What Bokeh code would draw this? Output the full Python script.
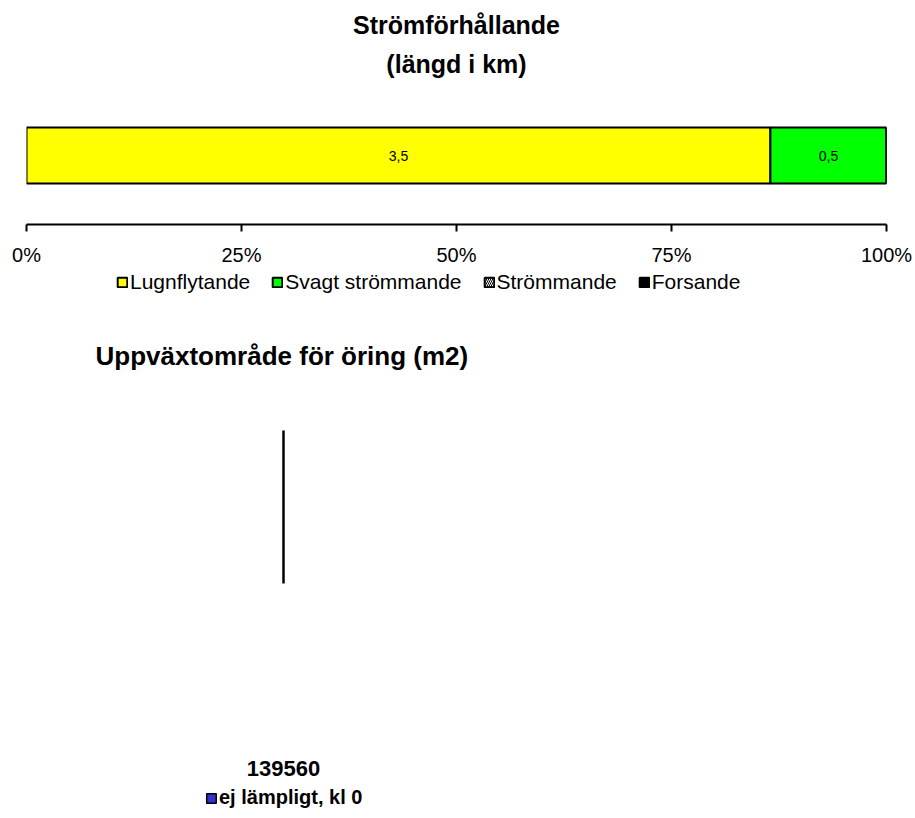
import math
from bokeh.plotting import figure
from bokeh.models import (Range1d, FactorRange, FixedTicker, PrintfTickFormatter,
                          Legend, LegendItem, Title, ColumnDataSource)
from bokeh.layouts import column
from bokeh.embed import file_html
from bokeh.resources import INLINE
from bokeh.core.properties import value

# ---------------- data ----------------
flow_title = "Strömförhållande"
flow_subtitle = "(längd i km)"
flow_categories = ["Lugnflytande", "Svagt strömmande", "Strömmande", "Forsande"]
flow_km = [3.46, 0.54, 0.0, 0.0]
flow_colors = ["#FFFF00", "#00FF00", "#FFFFFF", "#000000"]
flow_hatch = [" ", " ", "\\", " "]
pct_ticks = [0, 25, 50, 75, 100]

trout_title = "Uppväxtområde för öring  (m2)"
trout_categories = ["ej lämpligt, kl 0"]
trout_m2 = [139560]
trout_colors = ["#3333CC"]

FONT = "Liberation Sans"
W = 915
FRAME = dict(min_border_left=26, min_border_right=29)

# ---------------- figure 1: stacked 100% bar ----------------
row = [flow_title]
total = sum(flow_km)
pct = [v / total * 100 for v in flow_km]
lefts, rights = [], []
acc = 0.0
for v in pct:
    lefts.append(acc)
    acc += v
    rights.append(acc)

p1 = figure(width=W, height=268, x_range=Range1d(0, 100),
            y_range=FactorRange(factors=row, range_padding=0),
            output_backend="svg", toolbar_location=None,
            min_border_top=86, min_border_bottom=44, **FRAME)
p1.title = None
p1.outline_line_color = None
p1.grid.visible = False
p1.yaxis.visible = False

bar_style = dict(line_color="black", line_width=2, hatch_color="black",
                 hatch_scale=4, hatch_weight=1)
for i, cat in enumerate(flow_categories):
    src = ColumnDataSource(dict(y=row, left=[lefts[i]], right=[rights[i]]))
    p1.hbar(y="y", left="left", right="right", height=0.406, source=src,
            fill_color=flow_colors[i], hatch_pattern=flow_hatch[i], **bar_style)

lab_x, lab_t = [], []
for i, v in enumerate(flow_km):
    if v > 0:
        lab_x.append((lefts[i] + rights[i]) / 2)
        lab_t.append(f"{v:.1f}".replace(".", ","))
p1.text(x=lab_x, y=row * len(lab_x), text=lab_t, text_font=value(FONT),
        text_font_size="14px", text_align="center", text_baseline="middle",
        text_color="black")

ax = p1.xaxis[0]
ax.ticker = FixedTicker(ticks=pct_ticks)
ax.formatter = PrintfTickFormatter(format="%d%%")
ax.axis_line_width = 2
ax.axis_line_color = "black"
ax.major_tick_in = 0
ax.major_tick_out = 7
ax.major_tick_line_width = 2
ax.major_tick_line_color = "black"
ax.minor_tick_line_color = None
ax.major_label_text_font = FONT
ax.major_label_text_font_size = "20px"
ax.major_label_text_color = "black"
ax.major_label_standoff = 12

p1.add_layout(Title(text=flow_subtitle, align="center", text_font=FONT,
                    text_font_size="25px", text_font_style="bold",
                    text_color="black", standoff=18), "above")
p1.add_layout(Title(text=flow_title, align="center", text_font=FONT,
                    text_font_size="25px", text_font_style="bold",
                    text_color="black", standoff=0), "above")

# ---------------- legend strip for figure 1 ----------------
pl = figure(width=W, height=36, x_range=Range1d(0, 1), y_range=Range1d(0, 1),
            output_backend="svg", toolbar_location=None,
            min_border_top=0, min_border_bottom=0, **FRAME)
pl.title = None
pl.outline_line_color = None
pl.grid.visible = False
pl.axis.visible = False
items = []
for i, cat in enumerate(flow_categories):
    r = pl.hbar(y=[-1], left=[0], right=[flow_km[i] * 0], height=0,
                fill_color=flow_colors[i], hatch_pattern=flow_hatch[i],
                **bar_style)
    items.append(LegendItem(label=cat, renderers=[r]))
leg1 = Legend(items=items, orientation="horizontal", location=(90, 10),
              glyph_width=12, glyph_height=12, label_standoff=2, spacing=21,
              padding=0, margin=0, border_line_color=None,
              background_fill_alpha=0,
              label_text_font=FONT, label_text_font_size="21px",
              label_text_color="black")
pl.add_layout(leg1, "center")

# ---------------- figure 2: pie ----------------
R = 153
ttot = sum(trout_m2)
starts, ends, mids = [], [], []
acc = 0.0
for v in trout_m2:
    a0 = math.pi / 2 - acc / ttot * 2 * math.pi
    acc += v
    a1 = math.pi / 2 - acc / ttot * 2 * math.pi
    starts.append(a0)
    ends.append(a1)
    mids.append((a0 + a1) / 2)

p2 = figure(width=W, height=512, x_range=Range1d(-257, 603),
            y_range=Range1d(-233, 183), output_backend="svg",
            toolbar_location=None, min_border_top=96, min_border_bottom=0,
            **FRAME)
p2.title = None
p2.outline_line_color = None
p2.grid.visible = False
p2.axis.visible = False

# slice (no visible fill in the original rendering) and its edge line
p2.wedge(x=[0] * len(trout_m2), y=[0] * len(trout_m2), radius=R,
         start_angle=starts, end_angle=ends, direction="clock",
         fill_alpha=0, line_alpha=0)
p2.ray(x=[0] * len(starts), y=[0] * len(starts), length=R, angle=starts,
       length_units="data", line_color="black", line_width=2.5)
# legend proxy
proxy = p2.wedge(x=[0] * len(trout_m2), y=[0] * len(trout_m2), radius=0,
                 start_angle=starts, end_angle=ends, direction="clock",
                 fill_color=trout_colors, line_color="black", line_width=1.5)

lab_r = 1.21 * R
p2.text(x=[lab_r * math.cos(m) for m in mids], y=[lab_r * math.sin(m) for m in mids],
        text=[str(v) for v in trout_m2], text_font=value(FONT),
        text_font_size="22px", text_font_style="bold",
        text_align="center", text_baseline="middle", text_color="black")

leg2 = Legend(items=[LegendItem(label=trout_categories[0], renderers=[proxy])],
              location=(179, 7), glyph_width=12, glyph_height=12,
              label_standoff=2, padding=0, margin=0, border_line_color=None,
              background_fill_alpha=0, label_text_font=FONT,
              label_text_font_size="20px", label_text_font_style="bold",
              label_text_color="black")
p2.add_layout(leg2, "center")

p2.add_layout(Title(text=trout_title, align="left", offset=69, text_font=FONT,
                    text_font_size="26px", text_font_style="bold",
                    text_color="black", standoff=59), "above")

layout = column(p1, pl, p2, spacing=0)
open("out.html", "w").write(file_html(layout, INLINE))
